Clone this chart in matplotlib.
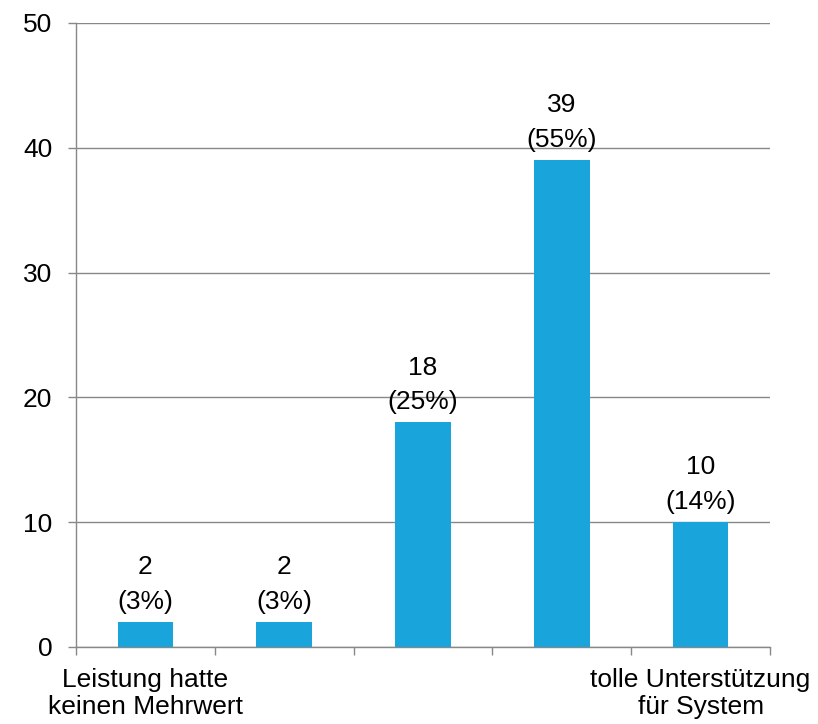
import matplotlib
matplotlib.use("Agg")
import matplotlib.pyplot as plt
import numpy as np

categories = ["Leistung hatte\nkeinen Mehrwert", "", "", "", "tolle Unterstützung\nfür System"]
values = [2, 2, 18, 39, 10]
percents = ["3%", "3%", "25%", "55%", "14%"]
yticks = [0, 10, 20, 30, 40, 50]

plt.rcParams['font.family'] = ['Liberation Sans', 'DejaVu Sans']
fig = plt.figure(figsize=(8.18, 7.24), dpi=100)
ax = fig.add_axes([76/818, 1-647/724, (770-76)/818, (647-23)/724])

x = np.arange(len(values))
ax.bar(x, values, width=0.4, color='#19A5DC', zorder=3)
ax.set_xlim(-0.5, len(values)-0.5)
ax.set_ylim(0, 50)
ax.set_yticks(yticks)
ax.yaxis.grid(True, color='#888888', linewidth=1.0, zorder=0)
ax.set_axisbelow(True)

for s in ['top', 'right']:
    ax.spines[s].set_visible(False)
for s in ['left', 'bottom']:
    ax.spines[s].set_color('#888888')
    ax.spines[s].set_linewidth(1.0)

ax.tick_params(axis='y', length=6, width=1.0, color='#888888', labelsize=19, pad=11, direction='out')
ax.set_xticks(np.arange(-0.5, len(values), 1.0))
ax.set_xticklabels([])
ax.tick_params(axis='x', which='major', length=6, width=1.0, color='#888888', direction='out')
ax.set_xticks(x, minor=True)
ax.set_xticklabels(categories, minor=True, fontsize=19, linespacing=1.15)
ax.tick_params(axis='x', which='minor', length=0, pad=15)

for xi, v, p in zip(x, values, percents):
    ax.annotate(f"{v}\n({p})", (xi, v), xytext=(0, 6), textcoords='offset points',
                ha='center', va='bottom', fontsize=19, linespacing=1.55)

fig.savefig("out.png", dpi=100)
